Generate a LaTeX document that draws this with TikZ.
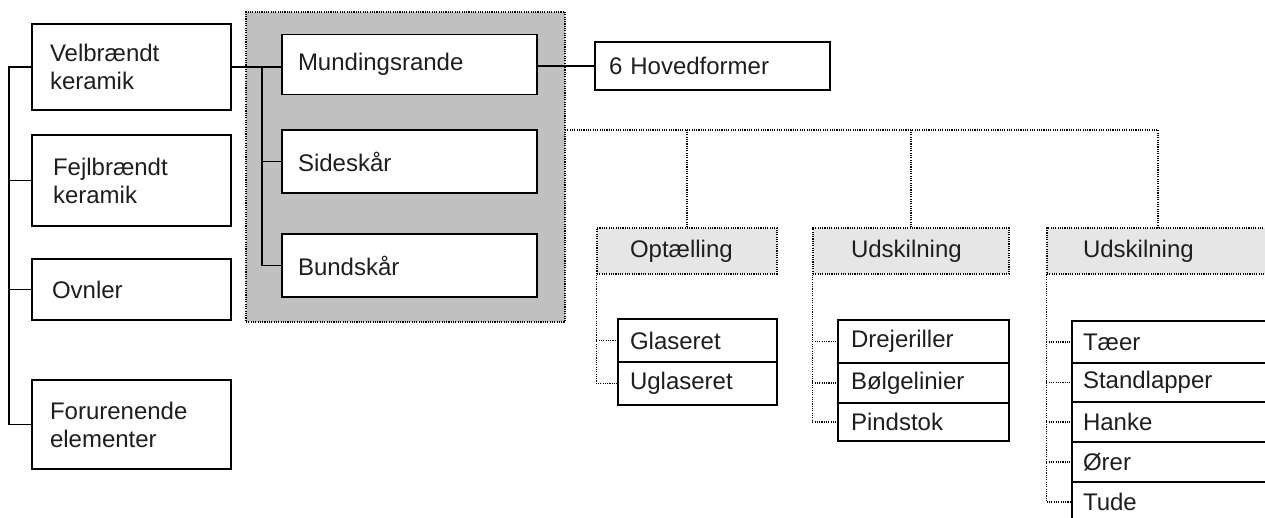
\documentclass[tikz,border=0pt]{standalone}
\usepackage{fontspec}
\setmainfont{Liberation Sans}
\definecolor{txt}{HTML}{1E1E1E}
\definecolor{hdfill}{HTML}{E6E6E6}
\definecolor{grpfill}{HTML}{C0C0C0}
\tikzset{
  dotline/.style={line width=1.3pt, dash pattern=on 1.1pt off 1.2pt},
  conn/.style={line width=1.2pt, draw=black},
  bx/.style={draw=black, line width=1.2pt, fill=white, text=txt,
    font=\fontsize{24}{28}\selectfont, align=left, inner ysep=0pt, anchor=center},
  hd/.style={bx, dotline, fill=hdfill},
  grp/.style={draw=black, dotline, fill=grpfill, inner sep=0pt},
}
\begin{document}
\begin{tikzpicture}[x=1pt,y=-1pt]
\clip (0,0) rectangle (1265,518);
\fill[white] (0,0) rectangle (1265,518);
% grey group
\node[grp, minimum width=319, minimum height=310] (grpbox) at (405.5,167) {};
% left column
\node[bx, text width=163, inner xsep=18, minimum height=86] (vel) at (131.5,67) {Velbrændt\\keramik};
\node[bx, text width=157, inner xsep=21, minimum height=91] (fej) at (131.5,180.5) {Fejlbrændt\\keramik};
\node[bx, text width=159, inner xsep=20, minimum height=61] (ovn) at (131.5,289.5) {Ovnler};
\node[bx, text width=163, inner xsep=18, minimum height=89] (for) at (131.5,424.5) {Forurenende\\elementer};
% middle column
\node[bx, text width=223, inner xsep=16, minimum height=60] (mun) at (409.5,64.5) {Mundingsrande};
\node[bx, text width=223, inner xsep=16, minimum height=63] (sid) at (409.5,161.5) {Sideskår};
\node[bx, text width=223, inner xsep=16, minimum height=63] (bun) at (409.5,265.5) {Bundskår};
\node[bx, text width=207, inner xsep=14, minimum height=48] (hov) at (712.5,66) {6 Hovedformer};
% headers
\node[hd, text width=114, inner xsep=33, minimum height=46] (opt) at (687,251) {Optælling};
\node[hd, text width=120, inner xsep=38, minimum height=46] (udb) at (911,251) {Udskilning};
\node[hd, text width=150, inner xsep=36, minimum height=46] (udc) at (1158,251) {Udskilning};
% lists
\node[bx, text width=135, inner xsep=12, minimum height=43] (gla) at (697.5,340.5) {Glaseret};
\node[bx, text width=135, inner xsep=12, minimum height=43] (ugl) at (697.5,383.5) {Uglaseret};
\node[bx, text width=145, inner xsep=13, minimum height=43] (dre) at (923.5,341.5) {Drejeriller};
\node[bx, text width=145, inner xsep=13, minimum height=40] (bol) at (923.5,383) {Bølgelinier};
\node[bx, text width=145, inner xsep=13, minimum height=38] (pin) at (923.5,422) {Pindstok};
\node[bx, text width=186, inner xsep=11, minimum height=42] (tae) at (1176,342) {Tæer};
\node[bx, text width=186, inner xsep=11, minimum height=39] (sta) at (1176,382.5) {Standlapper};
\node[bx, text width=186, inner xsep=11, minimum height=40] (han) at (1176,422) {Hanke};
\node[bx, text width=186, inner xsep=11, minimum height=40] (ore) at (1176,462) {Ører};
\node[bx, text width=186, inner xsep=11, minimum height=40] (tud) at (1176,502) {Tude};
% solid connectors
\coordinate (trunkx) at (9,0);
\coordinate (midx) at (262,0);
\draw[conn] (vel.west) -- (vel.west -| trunkx) -- (for.west -| trunkx) -- (for.west);
\draw[conn] (fej.west -| trunkx) -- (fej.west);
\draw[conn] (ovn.west -| trunkx) -- (ovn.west);
\draw[conn] (vel.east) -- (vel.east -| mun.west);
\draw[conn] (vel.east -| midx) |- (bun.west);
\draw[conn] (sid.west -| midx) -- (sid.west);
\draw[conn] (mun.east |- hov.west) -- (hov.west);
% dotted connectors
\coordinate (busL) at (565,130);
\coordinate (busR) at (1158,130);
\draw[dotline] (busL) -- (busR) -- (udc.north);
\draw[dotline] (opt.north) -- (opt.north |- busL);
\draw[dotline] (udb.north) -- (udb.north |- busL);
\draw[dotline] (opt.south west) |- (ugl.west);
\draw[dotline] (gla.west -| opt.south west) -- (gla.west);
\draw[dotline] (udb.south west) |- (pin.west);
\draw[dotline] (dre.west -| udb.south west) -- (dre.west);
\draw[dotline] (bol.west -| udb.south west) -- (bol.west);
\draw[dotline] (udc.south west) |- (tud.west);
\draw[dotline] (tae.west -| udc.south west) -- (tae.west);
\draw[dotline] (sta.west -| udc.south west) -- (sta.west);
\draw[dotline] (han.west -| udc.south west) -- (han.west);
\draw[dotline] (ore.west -| udc.south west) -- (ore.west);
\end{tikzpicture}
\end{document}
